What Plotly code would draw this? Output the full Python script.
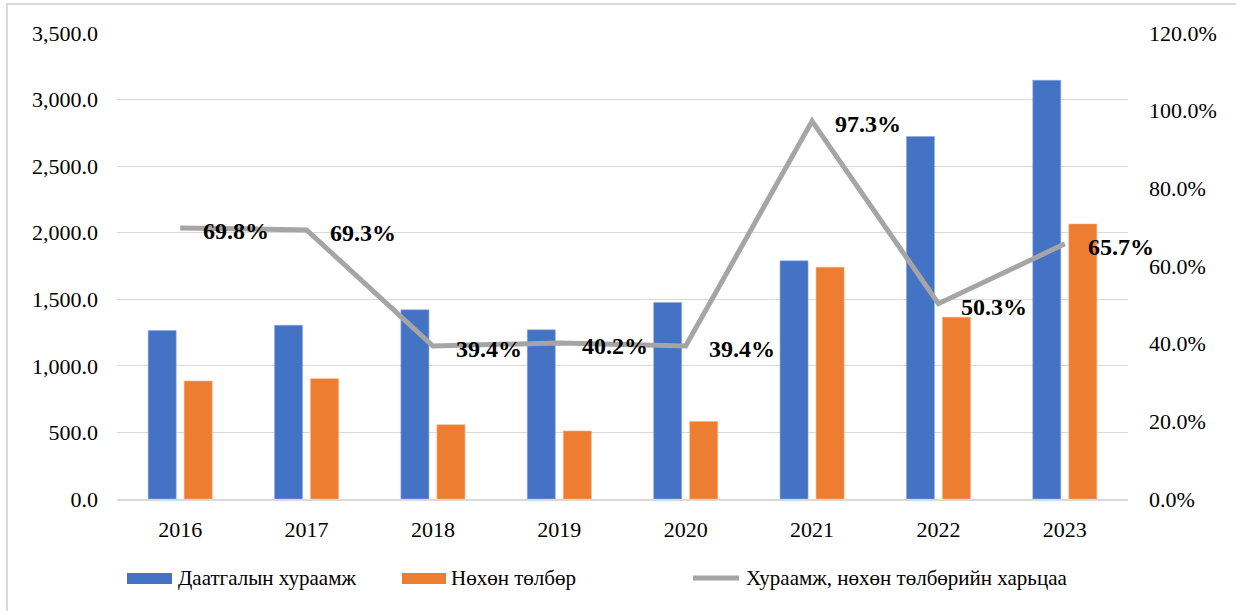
import plotly.graph_objects as go

years = ["2016", "2017", "2018", "2019", "2020", "2021", "2022", "2023"]
premiums = [1265, 1305, 1421, 1271, 1476, 1789, 2722, 3145]
claims = [886, 904, 558, 511, 582, 1741, 1366, 2066]
ratio = [0.698, 0.693, 0.394, 0.402, 0.394, 0.973, 0.503, 0.657]
ratio_labels = ["69.8%", "69.3%", "39.4%", "40.2%", "39.4%", "97.3%", "50.3%", "65.7%"]

name_prem = "Даатгалын хураамж"
name_claim = "Нөхөн төлбөр"
name_ratio = "Хураамж, нөхөн төлбөрийн харьцаа"

BLUE = "#4472C4"
ORANGE = "#ED7D31"
GRAY = "#A5A5A5"
GRID = "#D9D9D9"
FONT = "Liberation Serif"

W, H = 1236, 611
L, R, T, B = 117, 108, 33, 112
PW = W - L - R
PH = H - T - B


def to_px(xp):
    return (xp - L) / PW


def to_py(yp):
    return (H - B - yp) / PH


fig = go.Figure()
fig.add_trace(go.Bar(x=years, y=premiums, name=name_prem, marker=dict(color=BLUE, line=dict(width=0.6, color="#8EA9DB")), showlegend=False))
fig.add_trace(go.Bar(x=years, y=claims, name=name_claim, marker=dict(color=ORANGE, line=dict(width=0.6, color="#F4B183")), showlegend=False))
fig.add_trace(go.Scatter(x=years, y=ratio, name=name_ratio, yaxis="y2", mode="lines",
                         line=dict(color=GRAY, width=5), showlegend=False))

annotations = []
for i, (v, t) in enumerate(zip(ratio, ratio_labels)):
    annotations.append(dict(x=i, y=v, xref="x", yref="y2", text="<b>" + t + "</b>",
                            showarrow=False, xanchor="left", yanchor="middle",
                            xshift=21, yshift=-3,
                            font=dict(family=FONT, size=24, color="black")))

# manual legend
shapes = [
    dict(type="rect", xref="paper", yref="paper", x0=to_px(7), x1=to_px(1300), y0=to_py(4), y1=to_py(700),
         line=dict(color=GRID, width=2), fillcolor="rgba(0,0,0,0)", layer="below"),
    dict(type="rect", xref="paper", yref="paper", x0=to_px(127), x1=to_px(172), y0=to_py(573), y1=to_py(584),
         line=dict(width=0), fillcolor=BLUE),
    dict(type="rect", xref="paper", yref="paper", x0=to_px(402), x1=to_px(446), y0=to_py(573), y1=to_py(584),
         line=dict(width=0), fillcolor=ORANGE),
    dict(type="line", xref="paper", yref="paper", x0=to_px(693), x1=to_px(739), y0=to_py(578), y1=to_py(578),
         line=dict(color=GRAY, width=5)),
]
for xx, txt in [(176, name_prem), (449, name_claim), (744, name_ratio)]:
    annotations.append(dict(x=to_px(xx), y=to_py(578), xref="paper", yref="paper", text=txt,
                            showarrow=False, xanchor="left", yanchor="middle",
                            font=dict(family=FONT, size=21, color="black")))

fig.update_layout(
    width=W, height=H,
    margin=dict(l=L, r=R, t=T, b=B, autoexpand=False),
    paper_bgcolor="white", plot_bgcolor="white",
    barmode="group", bargap=0.43, bargroupgap=0.222,
    font=dict(family=FONT, size=22, color="black"),
    xaxis=dict(type="category", range=[-0.5, len(years) - 0.5], showgrid=False, showline=True,
               linecolor=GRID, linewidth=1.5,
               ticks="", tickfont=dict(size=22), ticklabelstandoff=10),
    yaxis=dict(range=[0, 3500], dtick=500, tickformat=",.1f", showgrid=True,
               gridcolor=GRID, gridwidth=1.2, zeroline=False, showline=False,
               ticks="", tickfont=dict(size=22), ticklabelstandoff=18),
    yaxis2=dict(range=[0, 1.2], dtick=0.2, tickformat=".1%", overlaying="y", side="right",
                showgrid=False, zeroline=False, showline=False, ticks="",
                tickfont=dict(size=22), ticklabelstandoff=20),
    shapes=shapes,
    annotations=annotations,
    showlegend=False,
)

fig.write_html("out.html", config={"displayModeBar": False},
               post_script="document.body.style.margin='0';document.body.style.overflow='hidden';")
